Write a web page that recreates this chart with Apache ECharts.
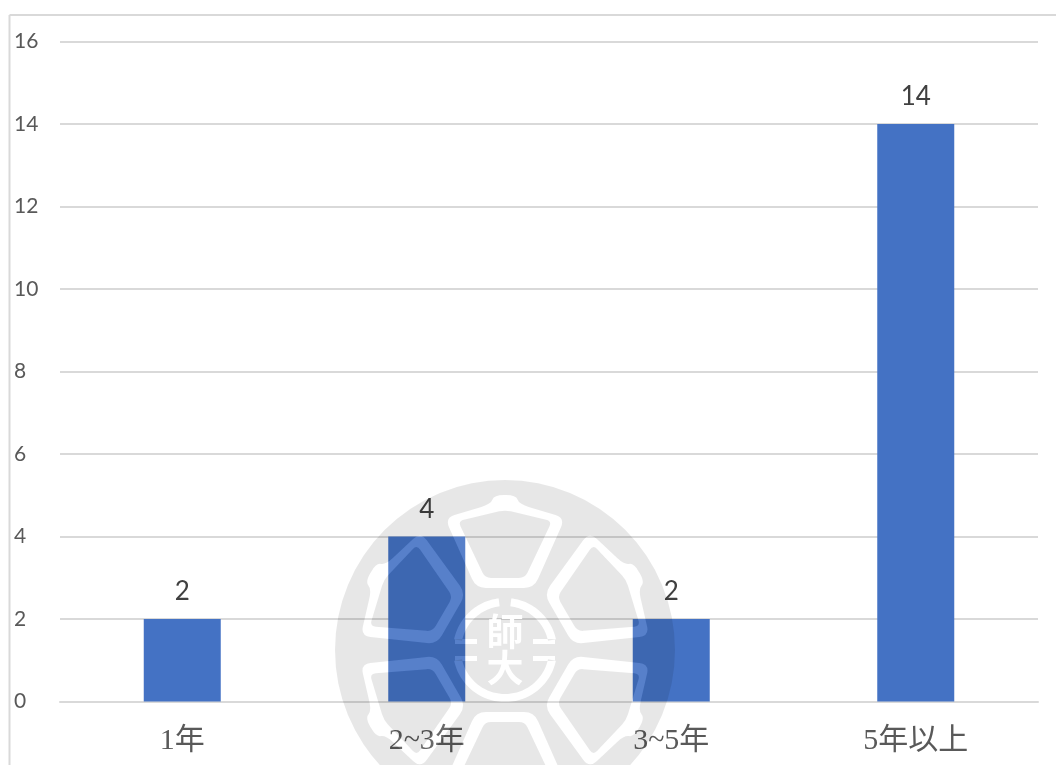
<!DOCTYPE html>
<html>
<head>
<meta charset="utf-8">
<title>chart</title>
<style>
html, body { margin: 0; padding: 0; background: #fff; }
#main { width: 1056px; height: 765px; }
</style>
<script src="https://cdn.jsdelivr.net/npm/echarts@6/dist/echarts.min.js"></script>
</head>
<body>
<div id="main"></div>
<script>
var categories = ['1年', '2~3年', '3~5年', '5年以上'];
var values = [2, 4, 2, 14];
var yTicks = [0, 2, 4, 6, 8, 10, 12, 14, 16];

// watermark outline, relative to the seal centre
var sealX = 505, sealY = 650, sealR = 170;
var petalOuter = [[-60, -132], [-14, -146], [-11, -155], [11, -155], [14, -146], [60, -132], [29, -62], [-29, -62]];
var petalInner = [[-47, -129], [0, -140], [47, -129], [20, -72], [-20, -72]];

function rotate(pts, deg) {
    var a = deg * Math.PI / 180, c = Math.cos(a), s = Math.sin(a);
    return pts.map(function (p) { return [p[0] * c - p[1] * s, p[0] * s + p[1] * c]; });
}
// closed contour with rounded corners
function contour(ctx, pts, r) {
    var n = pts.length;
    function toward(a, b) {
        var d = Math.hypot(b[0] - a[0], b[1] - a[1]), t = Math.min(r / d, 0.5);
        return [a[0] + (b[0] - a[0]) * t, a[1] + (b[1] - a[1]) * t];
    }
    for (var i = 0; i < n; i++) {
        var p = pts[i], a = toward(p, pts[(i + n - 1) % n]), b = toward(p, pts[(i + 1) % n]);
        if (i === 0) ctx.moveTo(sealX + a[0], sealY + a[1]);
        else ctx.lineTo(sealX + a[0], sealY + a[1]);
        ctx.quadraticCurveTo(sealX + p[0], sealY + p[1], sealX + b[0], sealY + b[1]);
    }
    ctx.closePath();
}
function arcBand(r1, r2, a0, a1) {
    var pts = [], i, a;
    for (i = 0; i <= 40; i++) {
        a = (a0 + (a1 - a0) * i / 40) * Math.PI / 180;
        pts.push([r2 * Math.sin(a), -r2 * Math.cos(a)]);
    }
    for (i = 40; i >= 0; i--) {
        a = (a0 + (a1 - a0) * i / 40) * Math.PI / 180;
        pts.push([r1 * Math.sin(a), -r1 * Math.cos(a)]);
    }
    return pts.reverse();
}
// white bands, each hole counter clockwise so it cuts the disc
function drawBands(ctx) {
    for (var k = 0; k < 6; k++) {
        contour(ctx, rotate(petalOuter, k * 60).reverse(), 10);
        contour(ctx, rotate(petalInner, k * 60), 6);
    }
    contour(ctx, arcBand(44, 52, -78, -7), 0);
    contour(ctx, arcBand(44, 52, 7, 78), 0);
    contour(ctx, arcBand(44, 52, 102, 258), 0);
    contour(ctx, [[-50, -11], [-50, -6], [-28, -6], [-28, -11]], 0);
    contour(ctx, [[28, -11], [28, -6], [50, -6], [50, -11]], 0);
    contour(ctx, [[-50, 6], [-50, 11], [-28, 11], [-28, 6]], 0);
    contour(ctx, [[28, 6], [28, 11], [50, 11], [50, 6]], 0);
}
echarts.graphic.registerShape('sealDisc', echarts.graphic.extendShape({
    buildPath: function (ctx) {
        ctx.moveTo(sealX + sealR, sealY);
        ctx.arc(sealX, sealY, sealR, 0, Math.PI * 2, false);
        ctx.closePath();
        drawBands(ctx);
    }
}));
echarts.graphic.registerShape('sealBands', echarts.graphic.extendShape({
    buildPath: function (ctx) { drawBands(ctx); }
}));

var myChart = echarts.init(document.getElementById('main'));
var option = {
    animation: false,
    backgroundColor: '#fff',
    grid: { left: 60, right: 18, top: 41.5, bottom: 63.5 },
    xAxis: {
        type: 'category',
        data: categories,
        axisTick: { show: false },
        axisLine: { lineStyle: { color: '#d9d9d9', width: 2 } },
        axisLabel: {
            margin: 25,
            fontSize: 30,
            color: '#595959',
            fontFamily: 'Liberation Serif, Noto Sans CJK TC'
        }
    },
    yAxis: {
        type: 'value',
        min: yTicks[0],
        max: yTicks[yTicks.length - 1],
        interval: 2,
        axisLine: { show: false },
        axisTick: { show: false },
        splitLine: { lineStyle: { color: '#d9d9d9', width: 2 } },
        axisLabel: {
            align: 'left',
            margin: 46,
            padding: [4, 0, 0, 0],
            fontSize: 21,
            color: '#595959',
            fontFamily: 'Lato'
        }
    },
    series: [{
        type: 'bar',
        data: values,
        barWidth: 77,
        itemStyle: { color: '#4472c4' },
        label: {
            show: true,
            position: 'top',
            distance: 14,
            fontSize: 26,
            color: '#404040',
            fontFamily: 'Lato'
        }
    }],
    graphic: {
        elements: [
            { type: 'line', silent: true, shape: { x1: 9.5, y1: 15, x2: 1056, y2: 15 }, style: { stroke: '#d9d9d9', lineWidth: 2 } },
            { type: 'line', silent: true, shape: { x1: 9.5, y1: 15, x2: 9.5, y2: 765 }, style: { stroke: '#d9d9d9', lineWidth: 2 } },
            { type: 'sealDisc', silent: true, z: 100, style: { fill: 'rgba(0,0,0,0.095)' } },
            { type: 'sealBands', silent: true, z: 100, style: { fill: 'rgba(255,255,255,0.1)' } },
            { type: 'text', silent: true, z: 101, x: sealX, y: 632, style: { text: '師', fill: '#fff', fontSize: 37, fontWeight: 'bold', fontFamily: 'Noto Sans CJK TC', align: 'center', verticalAlign: 'middle' } },
            { type: 'text', silent: true, z: 101, x: sealX, y: 668, style: { text: '大', fill: '#fff', fontSize: 37, fontWeight: 'bold', fontFamily: 'Noto Sans CJK TC', align: 'center', verticalAlign: 'middle' } }
        ]
    }
};
myChart.setOption(option);
</script>
</body>
</html>
